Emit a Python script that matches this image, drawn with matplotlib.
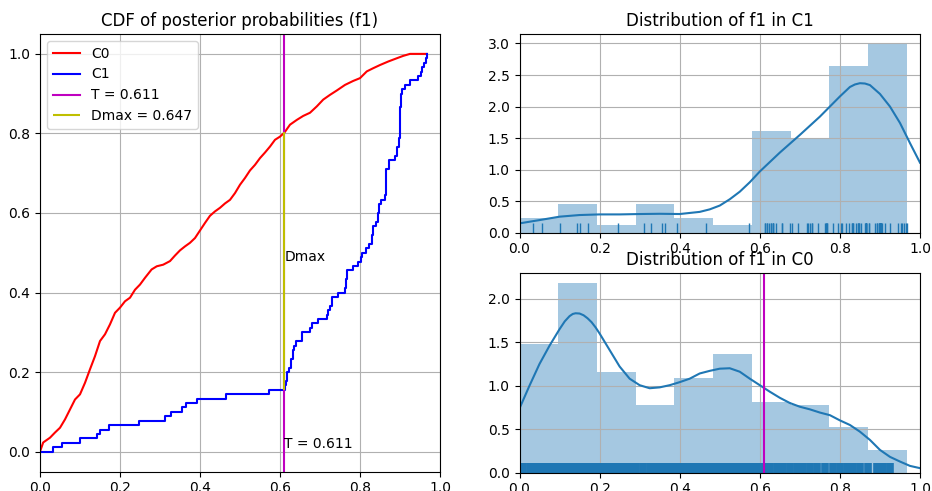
import numpy as np
import matplotlib
matplotlib.use('Agg')
import matplotlib.pyplot as plt

# threshold and KS distance
t_value = 0.611
dmax = 0.647

# posterior probabilities of class C1 (read from the rug / CDF)
c1_values = np.array([
    0.033, 0.056, 0.101, 0.143, 0.151, 0.172, 0.247, 0.312, 0.328, 0.355,
    0.364, 0.393, 0.465, 0.572,
    0.612, 0.614, 0.617, 0.617, 0.622, 0.627, 0.627, 0.632, 0.632, 0.634,
    0.640, 0.656, 0.656, 0.675,
    0.680, 0.695, 0.718, 0.721, 0.726, 0.731, 0.731, 0.745, 0.763, 0.765,
    0.765, 0.767, 0.767,
    0.782, 0.796, 0.803, 0.806, 0.815, 0.822, 0.830, 0.830, 0.833, 0.833,
    0.839, 0.845, 0.845, 0.848, 0.848, 0.852, 0.862, 0.864, 0.864, 0.864,
    0.866, 0.866, 0.866,
    0.872, 0.872, 0.888, 0.893, 0.893, 0.897, 0.897, 0.899, 0.899, 0.899,
    0.901, 0.901, 0.901, 0.901, 0.903, 0.903, 0.903, 0.906, 0.912, 0.925,
    0.945, 0.952, 0.956, 0.961, 0.964, 0.967,
])

# CDF of class C0
c0_cdf_x = np.array([
    0.0, 0.008, 0.025, 0.0375, 0.05, 0.0625, 0.075, 0.0875, 0.1, 0.1125,
    0.125, 0.1375, 0.15, 0.1625, 0.175, 0.1875, 0.2, 0.2125, 0.225, 0.2375,
    0.25, 0.2625, 0.279, 0.292, 0.308, 0.325, 0.3375, 0.35, 0.3625, 0.375,
    0.3875, 0.4, 0.4125, 0.425, 0.4375, 0.45, 0.4625, 0.475, 0.4875, 0.5,
    0.5125, 0.525, 0.5375, 0.55, 0.5625, 0.575, 0.5875, 0.6, 0.611, 0.625,
    0.642, 0.658, 0.675, 0.692, 0.708, 0.725, 0.742, 0.7625, 0.783, 0.8,
    0.817, 0.833, 0.85, 0.871, 0.892, 0.908, 0.925, 0.967,
])
c0_cdf_y = np.array([
    0.0, 0.023, 0.035, 0.048, 0.06, 0.081, 0.106, 0.131, 0.144, 0.173,
    0.207, 0.24, 0.278, 0.295, 0.32, 0.349, 0.362, 0.378, 0.387, 0.407,
    0.42, 0.437, 0.458, 0.466, 0.47, 0.479, 0.493, 0.506, 0.516, 0.525,
    0.537, 0.556, 0.575, 0.593, 0.604, 0.613, 0.624, 0.633, 0.65, 0.671,
    0.688, 0.707, 0.721, 0.738, 0.752, 0.767, 0.784, 0.792, 0.802, 0.822,
    0.834, 0.844, 0.852, 0.868, 0.885, 0.897, 0.908, 0.922, 0.932, 0.939,
    0.956, 0.964, 0.972, 0.981, 0.989, 0.995, 1.0, 1.0,
])

# histogram (density) of C0, 10 bins
hist_edges = np.linspace(0.0, 0.967, 11)
c0_hist = [1.484, 2.184, 1.159, 0.780, 1.090, 1.365, 0.811, 0.772, 0.520, 0.260]

# kde curves
c1_kde_x = [0.0, 0.05, 0.1, 0.15, 0.2, 0.25, 0.3, 0.35, 0.4, 0.45, 0.475, 0.5,
            0.525, 0.55, 0.575, 0.6, 0.65, 0.7, 0.75, 0.8, 0.825, 0.8375, 0.85,
            0.8625, 0.875, 0.9, 0.925, 0.95, 0.975, 1.0]
c1_kde_y = [0.148, 0.20, 0.254, 0.28, 0.29, 0.29, 0.296, 0.30, 0.296, 0.33,
            0.37, 0.43, 0.53, 0.65, 0.80, 0.97, 1.27, 1.55, 1.84, 2.16, 2.31,
            2.35, 2.37, 2.365, 2.34, 2.20, 2.0, 1.74, 1.42, 1.11]
c0_kde_x = [0.0, 0.025, 0.05, 0.075, 0.1, 0.113, 0.125, 0.133, 0.14, 0.15,
            0.16, 0.17, 0.18, 0.19, 0.2, 0.225, 0.25, 0.275, 0.3, 0.325, 0.35,
            0.375, 0.4, 0.425, 0.45, 0.475, 0.5, 0.525, 0.55, 0.575, 0.6,
            0.625, 0.65, 0.675, 0.7, 0.725, 0.75, 0.775, 0.8, 0.825, 0.85,
            0.875, 0.9, 0.925, 0.95, 0.975, 1.0]
c0_kde_y = [0.738, 1.0, 1.25, 1.46, 1.65, 1.74, 1.80, 1.825, 1.833, 1.83,
            1.81, 1.775, 1.73, 1.67, 1.60, 1.41, 1.22, 1.08, 1.005, 0.97, 0.98,
            1.005, 1.04, 1.08, 1.14, 1.17, 1.195, 1.20, 1.16, 1.08, 1.005,
            0.93, 0.86, 0.80, 0.757, 0.727, 0.69, 0.66, 0.60, 0.547, 0.47,
            0.375, 0.26, 0.18, 0.126, 0.076, 0.05]

blue = '#1f77b4'

fig = plt.figure(figsize=(9.32, 4.91), dpi=100)
ax_cdf = fig.add_axes([40 / 932, 19.5 / 491, 400 / 932, 437.5 / 491])
ax_c1 = fig.add_axes([519.5 / 932, 258.3 / 491, 400.5 / 932, 198.7 / 491])
ax_c0 = fig.add_axes([519.5 / 932, 18.5 / 491, 400.5 / 932, 199.2 / 491])

# --- CDF ---
d_low = np.mean(c1_values <= t_value)
d_high = d_low + dmax
c1_steps_x = np.concatenate([[0.0], np.sort(c1_values)])
c1_steps_y = np.arange(len(c1_steps_x)) / len(c1_values)
ax_cdf.plot(c0_cdf_x, c0_cdf_y, color='r', label='C0')
ax_cdf.step(c1_steps_x, c1_steps_y, where='post', color='b', label='C1')
ax_cdf.axvline(t_value, color='m', label=f'T = {t_value}')
ax_cdf.vlines(t_value, d_low, d_high, color='y', linewidth=1.5, label=f'Dmax = {dmax}')
ax_cdf.text(t_value, (d_low + d_high) / 2, 'Dmax')
ax_cdf.text(t_value, 0.01, f'T = {t_value}')
ax_cdf.set_xlim(0, 1)
ax_cdf.set_ylim(-0.05, 1.05)
ax_cdf.grid(True)
ax_cdf.legend(loc='upper left')
ax_cdf.set_title('CDF of posterior probabilities (f1)')

# --- distribution in C1 ---
ax_c1.hist(c1_values, bins=hist_edges, density=True, color=blue, alpha=0.4)
ax_c1.plot(c1_kde_x, c1_kde_y, color=blue)
ax_c1.vlines(c1_values, 0, 0.05, transform=ax_c1.get_xaxis_transform(),
             color=blue, linewidth=1)
ax_c1.set_xlim(0, 1)
ax_c1.set_ylim(0, 3.15)
ax_c1.grid(True)
ax_c1.set_title('Distribution of f1 in C1')

# --- distribution in C0 ---
ax_c0.bar(hist_edges[:-1], c0_hist, width=np.diff(hist_edges), align='edge',
          color=blue, alpha=0.4)
ax_c0.plot(c0_kde_x, c0_kde_y, color=blue)
c0_rug = c0_cdf_x[c0_cdf_x < 0.93]
ax_c0.vlines(c0_rug, 0, 0.05, transform=ax_c0.get_xaxis_transform(),
             color=blue, linewidth=5.5, capstyle='butt')
ax_c0.axvline(t_value, color='m')
ax_c0.set_xlim(0, 1)
ax_c0.set_ylim(0, 2.293)
ax_c0.grid(True)
ax_c0.set_title('Distribution of f1 in C0')

plt.savefig('out.png', dpi=100)
